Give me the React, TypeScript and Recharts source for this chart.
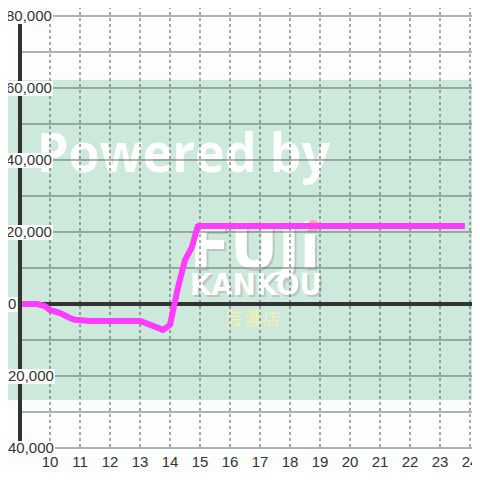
import {
  LineChart,
  Line,
  XAxis,
  YAxis,
  CartesianGrid,
  ReferenceLine,
} from "recharts";

// time of day (hours) and running balance (yen)
const hours = [9, 9.57, 9.83, 10, 10.33, 10.67, 10.83, 11.33, 12.33, 13, 13.77, 14, 14.27, 14.5, 14.73, 14.93, 23.83];
const balance = [0, 0, -600, -1700, -2500, -3900, -4400, -4700, -4700, -4700, -7200, -5800, 4700, 12200, 15800, 21700, 21700];

const xTicks = [10, 11, 12, 13, 14, 15, 16, 17, 18, 19, 20, 21, 22, 23, 24];
const yTicks = [-40000, -30000, -20000, -10000, 0, 10000, 20000, 30000, 40000, 50000, 60000, 70000, 80000];
const yLabelTicks = [-40000, -20000, 0, 20000, 40000, 60000, 80000];

const data = hours.map((h, i) => ({ h, v: balance[i] }));

const fmt = (v: number) => v.toLocaleString("en-US");

// y labels sit on small white boxes that cover the axis bar and the grid
function YTick(props: any) {
  const { y, payload } = props;
  const val = payload.value as number;
  if (!yLabelTicks.includes(val)) return null;
  const label = fmt(val);
  let w = 0;
  for (const c of label) w += c === "," ? 4.2 : c === "-" ? 5 : 8.35;
  const x0 = val < 0 ? 3 : val === 0 ? 8 : 6;
  const top = val === 80000 ? 0 : y - 7;
  return (
    <g>
      <rect x={x0 - 1} y={top} width={w + 2} height={y + 8 - top} fill="#ffffff" />
      <text x={x0} y={y} dy="0.36em" textAnchor="start" fontSize={15} fill="#333" fontFamily="'Liberation Sans', Arial, sans-serif">
        {label}
      </text>
    </g>
  );
}

function Backdrop() {
  return (
    <svg width={480} height={480} style={{ position: "absolute", left: 0, top: 0 }}>
      <rect x={0} y={0} width={480} height={480} fill="#fbfefc" />
      <rect x={0} y={80} width={480} height={320} fill="#cce9dc" />
      <text x={37} y={172} fontSize={54} fontWeight={700} fill="#ffffff" fillOpacity={0.96} fontFamily="'Open Sans', sans-serif" textLength={293} lengthAdjust="spacingAndGlyphs">
        Powered by
      </text>
      <g fontFamily="'DejaVu Sans', sans-serif" fontWeight={700}>
        <text x={192} y={270} fontSize={62} fill="#b8c8c0" textLength={130} lengthAdjust="spacingAndGlyphs">FUJi</text>
        <text x={190} y={268} fontSize={62} fill="#ffffff" textLength={130} lengthAdjust="spacingAndGlyphs">FUJi</text>
        <circle cx={313} cy={226} r={6} fill="#f0b0b0" />
        <text x={192} y={297} fontSize={31} fill="#b8c8c0" textLength={132} lengthAdjust="spacingAndGlyphs">KANKOU</text>
        <text x={190} y={295} fontSize={31} fill="#ffffff" textLength={132} lengthAdjust="spacingAndGlyphs">KANKOU</text>
      </g>
      <text x={225} y={325} fontSize={17} fill="#f2f2b0" fontFamily="'Noto Sans CJK JP', sans-serif" textLength={55}>
        芸濃店
      </text>
    </svg>
  );
}

export default function App() {
  return (
    <div style={{ position: "relative", width: 480, height: 480, margin: -8 }}>
      <Backdrop />
      <div style={{ position: "absolute", left: 0, top: 0 }}>
        <LineChart width={480} height={480} data={data} margin={{ top: 0, right: 0, bottom: 0, left: 0 }}>
          <CartesianGrid vertical={false} stroke="#666" strokeWidth={1} />
          <CartesianGrid horizontal={false} stroke="#555" strokeDasharray="3 3" />
          <XAxis
            dataKey="h"
            type="number"
            domain={[9, 24.333]}
            ticks={xTicks}
            allowDataOverflow
            axisLine={false}
            tickLine={false}
            height={32}
            tick={{ fontSize: 15, fill: "#333", fontFamily: "'Liberation Sans', Arial, sans-serif" }}
          />
          <ReferenceLine y={0} stroke="#333" strokeWidth={4} />
          <Line
            type="linear"
            dataKey="v"
            stroke="#ff3cff"
            strokeWidth={6}
            strokeLinejoin="round"
            dot={false}
            isAnimationActive={false}
          />
          <YAxis
            type="number"
            domain={[-40000, 84444]}
            ticks={yTicks}
            allowDataOverflow
            width={20}
            axisLine={{ stroke: "#333", strokeWidth: 4 }}
            tickLine={false}
            tick={<YTick />}
            interval={0}
          />
        </LineChart>
      </div>
    </div>
  );
}
